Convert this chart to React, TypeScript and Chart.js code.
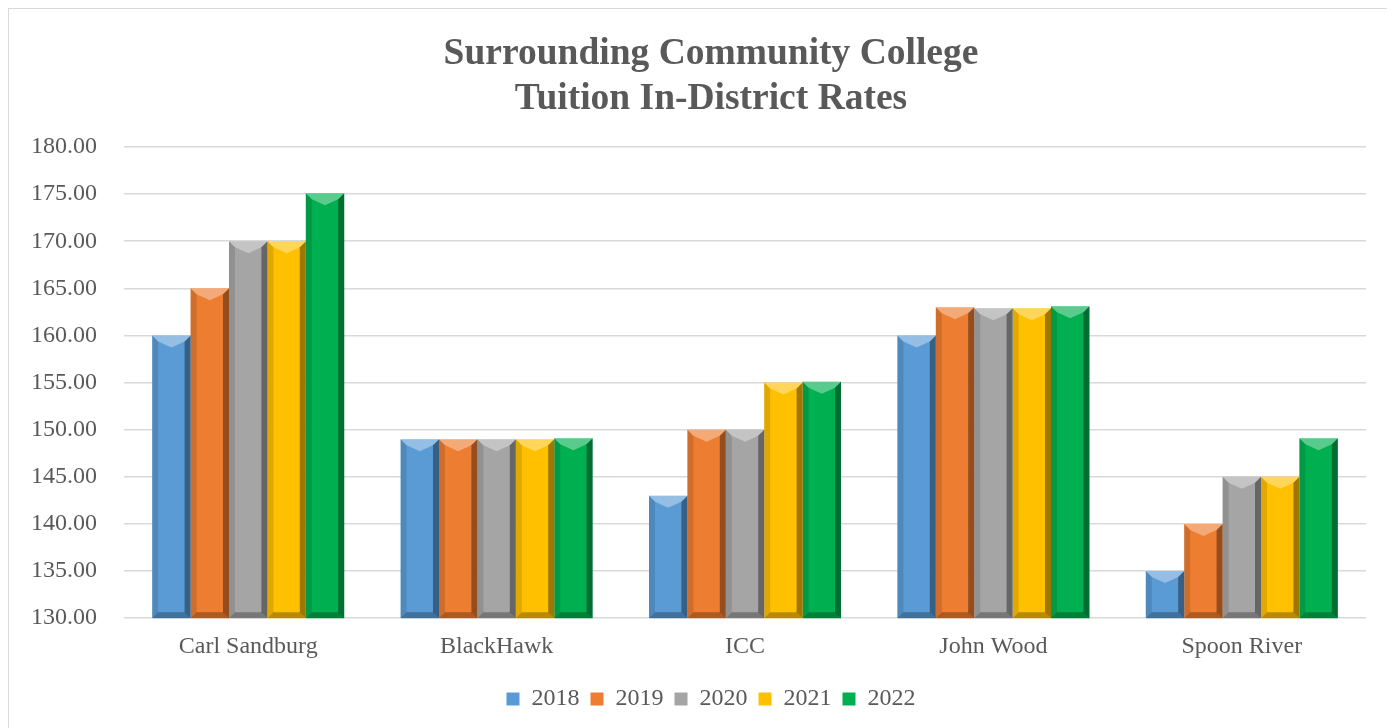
import React, { useEffect, useRef } from "react";
import { Chart, registerables } from "chart.js";

Chart.register(...registerables);

const categories = ["Carl Sandburg", "BlackHawk", "ICC", "John Wood", "Spoon River"];
const years = ["2018", "2019", "2020", "2021", "2022"];
const values2018 = [160, 149, 143, 160, 135];
const values2019 = [165, 149, 150, 163, 140];
const values2020 = [170, 149, 150, 162.9, 145];
const values2021 = [170, 149, 155, 162.9, 145];
const values2022 = [175.1, 149.1, 155.1, 163.1, 149.1];
const seriesValues = [values2018, values2019, values2020, values2021, values2022];
const seriesColors = ["#5B9BD5", "#ED7D31", "#A5A5A5", "#FFC000", "#00B050"];
const yMin = 130;
const yMax = 180;
const yStep = 5;

const FONT = "'Liberation Serif', 'Times New Roman', serif";
const TEXT = "#595959";

const bevelPlugin = {
  id: "bevel",
  afterDatasetsDraw(chart: any) {
    const ctx = chart.ctx;
    const area = chart.chartArea;
    chart.data.datasets.forEach((_: any, di: number) => {
      const meta = chart.getDatasetMeta(di);
      meta.data.forEach((bar: any) => {
        const { x, y, base, width } = bar.getProps(["x", "y", "base", "width"], true);
        const x0 = x - width / 2;
        const x1 = x + width / 2;
        const top = Math.max(Math.min(y, base), area.top);
        const bottom = Math.min(Math.max(y, base), area.bottom);
        if (bottom - top < 2) return;
        const b = Math.min(6, (bottom - top) / 3);
        const tip = Math.min(12, (bottom - top) / 2);
        ctx.save();
        ctx.beginPath();
        ctx.rect(area.left, area.top, area.right - area.left, area.bottom - area.top);
        ctx.clip();
        // right dark side
        ctx.beginPath();
        ctx.moveTo(x1, top);
        ctx.lineTo(x1, bottom);
        ctx.lineTo(x1 - b, bottom - b);
        ctx.lineTo(x1 - b, top + b);
        ctx.closePath();
        ctx.fillStyle = "rgba(0,0,0,0.38)";
        ctx.fill();
        // left side
        ctx.beginPath();
        ctx.moveTo(x0, top);
        ctx.lineTo(x0, bottom);
        ctx.lineTo(x0 + b, bottom - b);
        ctx.lineTo(x0 + b, top + b);
        ctx.closePath();
        ctx.fillStyle = "rgba(0,0,0,0.12)";
        ctx.fill();
        // bottom
        ctx.beginPath();
        ctx.moveTo(x0, bottom);
        ctx.lineTo(x1, bottom);
        ctx.lineTo(x1 - b, bottom - b);
        ctx.lineTo(x0 + b, bottom - b);
        ctx.closePath();
        ctx.fillStyle = "rgba(0,0,0,0.28)";
        ctx.fill();
        // top light
        ctx.beginPath();
        ctx.moveTo(x0, top);
        ctx.lineTo(x1, top);
        ctx.lineTo(x1 - b, top + b);
        ctx.lineTo(x, top + tip);
        ctx.lineTo(x0 + b, top + b);
        ctx.closePath();
        ctx.fillStyle = "rgba(255,255,255,0.35)";
        ctx.fill();
        ctx.restore();
      });
    });
  },
};

export default function App() {
  const ref = useRef<HTMLCanvasElement | null>(null);
  useEffect(() => {
    document.body.style.overflow = "hidden";
    Chart.defaults.font.family = FONT;
    const chart = new Chart(ref.current as HTMLCanvasElement, {
      type: "bar",
      data: {
        labels: categories,
        datasets: years.map((yr, i) => ({
          label: yr,
          data: seriesValues[i],
          backgroundColor: seriesColors[i],
          borderWidth: 0,
          barPercentage: 1,
          categoryPercentage: 0.773,
        })),
      },
      options: {
        animation: false,
        responsive: false,
        maintainAspectRatio: false,
        layout: { padding: { left: 47, right: 36, top: 23, bottom: 14 } },
        plugins: {
          title: {
            display: true,
            text: ["Surrounding Community College", "Tuition In-District Rates"],
            color: TEXT,
            font: { family: FONT, size: 37.5, weight: "bold", lineHeight: 1.2 },
            padding: { top: 0, bottom: 25 },
          },
          legend: {
            position: "bottom",
            labels: {
              color: TEXT,
              font: { family: FONT, size: 24 },
              boxWidth: 13,
              boxHeight: 13,
              padding: 11,
            },
          },
          tooltip: { enabled: false },
        },
        scales: {
          x: {
            grid: { display: false },
            border: { display: false },
            afterFit: (scale: any) => {
              scale.height = scale.height + 9;
            },
            ticks: { color: TEXT, font: { family: FONT, size: 24 }, padding: 6 },
          },
          y: {
            min: yMin,
            max: yMax,
            border: { display: false },
            grid: { color: "#d9d9d9", lineWidth: 1.5, drawTicks: false },
            afterFit: (scale: any) => {
              scale.width = 68;
              scale._computeLabelArea = () => undefined;
            },
            ticks: {
              stepSize: yStep,
              color: TEXT,
              font: { family: FONT, size: 24 },
              padding: 27,
              callback: (v: any) => Number(v).toFixed(2),
            },
          },
        },
      },
      plugins: [bevelPlugin],
    });
    return () => chart.destroy();
  }, []);
  return (
    <div
      style={{
        width: 1395,
        height: 728,
        border: "1px solid #d9d9d9",
        boxSizing: "border-box",
        position: "relative",
        background: "#fff",
      }}
    >
      <canvas ref={ref} width={1393} height={726} style={{ display: "block" }} />
    </div>
  );
}
